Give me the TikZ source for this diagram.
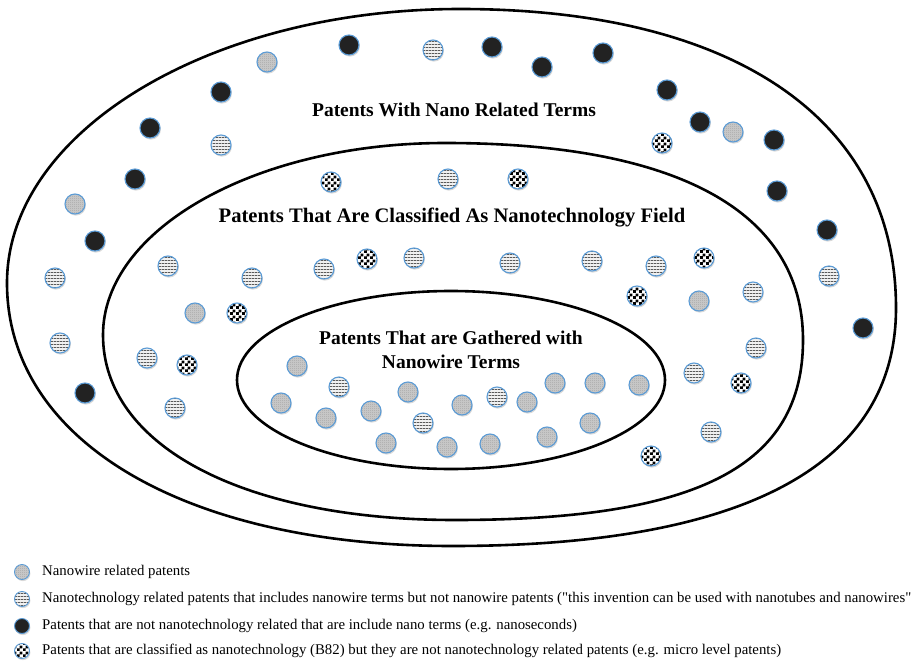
\documentclass[tikz,border=0pt]{standalone}
\usepackage{fontspec}
\setmainfont{Liberation Serif}[Ligatures=TeXOff]
\usetikzlibrary{patterns,shadows}
\definecolor{ringblue}{HTML}{5B9BD5}
\definecolor{wiregray}{HTML}{C6C6C6}
\definecolor{darkfill}{HTML}{222222}
\pgfdeclarepatternformonly{hstripes}{\pgfqpoint{0pt}{0pt}}{\pgfqpoint{3pt}{3pt}}{\pgfqpoint{3pt}{3pt}}{%
  \pgfpathrectangle{\pgfqpoint{-0.1pt}{0pt}}{\pgfqpoint{3.2pt}{1.2pt}}\pgfusepath{fill}}
\pgfdeclarepatternformonly{checks}{\pgfqpoint{0pt}{0pt}}{\pgfqpoint{5.6pt}{5.6pt}}{\pgfqpoint{5.6pt}{5.6pt}}{%
  \pgfpathrectangle{\pgfqpoint{0pt}{0pt}}{\pgfqpoint{2.85pt}{2.85pt}}%
  \pgfpathrectangle{\pgfqpoint{2.8pt}{2.8pt}}{\pgfqpoint{2.8pt}{2.8pt}}\pgfusepath{fill}}
\pgfdeclarepatternformonly{finedots}{\pgfqpoint{0pt}{0pt}}{\pgfqpoint{2pt}{2pt}}{\pgfqpoint{2pt}{2pt}}{%
  \pgfpathrectangle{\pgfqpoint{0pt}{0pt}}{\pgfqpoint{1pt}{1pt}}\pgfusepath{fill}}
\tikzset{
  dotbase/.style={circle, inner sep=0pt, minimum size=20pt, draw=ringblue, line width=1.1pt,
    drop shadow={shadow xshift=0.9pt, shadow yshift=-1.6pt, opacity=0.3}},
  wire/.style={dotbase, preaction={fill=wiregray}, pattern=finedots, pattern color=gray!80},
  strp/.style={dotbase, preaction={fill=gray!12}, pattern=hstripes, pattern color=black!65},
  blk/.style={dotbase, fill=darkfill},
  chk/.style={dotbase, preaction={fill=white}, pattern=checks, pattern color=black},
  legdot/.style={minimum size=15pt, line width=0.9pt},
  ring/.style={line width=2.6pt, draw=black},
  title/.style={font=\fontsize{19.5}{23.5}\selectfont\bfseries, align=center, inner sep=0pt},
  legtext/.style={anchor=west, inner sep=0pt, font=\fontsize{14.8}{17}\selectfont}
}
\begin{document}
\begin{tikzpicture}[x=1pt,y=-1pt]
\useasboundingbox (0,0) rectangle (915,663);
\fill[white] (0,0) rectangle (915,663);
% outer ring
\draw[ring] (7,283) .. controls (7,131.8) and (210,9) .. (460,9)
  .. controls (734.7,9) and (896,119.6) .. (896,308)
  .. controls (896,465) and (745,546) .. (452,546)
  .. controls (185,546) and (7,440.8) .. (7,283) -- cycle;
% middle ring
\draw[ring] (103,335) .. controls (103,229) and (256.2,143) .. (445,143)
  .. controls (677.7,143) and (803,211.9) .. (803,340)
  .. controls (803,466) and (698.6,520) .. (455,520)
  .. controls (243.8,520) and (103,446) .. (103,335) -- cycle;
% inner ring
\draw[ring] (451,380) ellipse [x radius=214pt, y radius=89pt];
% titles
\node[title] (t1) at (454,110) {Patents With Nano Related Terms};
\node[title, font=\fontsize{20.6}{24}\selectfont\bfseries] (t2) at (452,218) {Patents That Are Classified As Nanotechnology Field};
\node[title] (t3) at (451,350) {Patents That are Gathered with\\Nanowire Terms};
% dots
\foreach \px/\py/\tp [count=\i] in {
 267/62/wire, 349/45/blk, 433/50/strp, 492/47/blk, 542/67/blk, 603/53/blk, 221/92/blk, 150/128/blk,
 221/145/strp, 667/90/blk, 700/122/blk, 733/132/wire, 662/143/chk, 774/140/blk, 777/191/blk,
 827/230/blk, 829/276/strp, 863/328/blk, 135/179/blk, 75/204/wire, 95/241/blk, 55/278/strp,
 60/343/strp, 85/393/blk,
 331/182/chk, 448/179/strp, 518/179/chk, 168/266/strp, 252/278/strp, 195/313/wire, 237/313/chk,
 324/269/strp, 367/259/chk, 414/258/strp, 510/263/strp, 592/261/strp, 656/266/strp, 704/258/chk,
 637/296/chk, 699/301/wire, 753/292/strp, 756/348/strp, 694/373/strp, 741/383/chk, 711/432/strp,
 651/456/chk, 147/358/strp, 187/365/chk, 175/408/strp,
 297/366/wire, 339/387/strp, 281/403/wire, 326/418/wire, 371/411/wire, 408/392/wire, 386/443/wire,
 423/423/strp, 447/447/wire, 462/405/wire, 497/397/strp, 527/402/wire, 490/444/wire, 547/437/wire,
 555/383/wire, 595/383/wire, 590/423/wire, 639/385/wire}
 \node[\tp] (d\i) at (\px,\py) {};
% legend
\node[wire,legdot] (l1) at (22,572) {};
\node[strp,legdot] (l2) at (22,599) {};
\node[blk,legdot] (l3) at (22,626) {};
\node[chk,legdot] (l4) at (22,651) {};
\node[legtext] (lt1) at (42,572) {Nanowire related patents};
\node[legtext] (lt2) at (42,599) {Nanotechnology related patents that includes nanowire terms but not nanowire patents ("this invention can be used with nanotubes and nanowires"};
\node[legtext] (lt3) at (42,626) {Patents that are not nanotechnology related that are include nano terms (e.g. nanoseconds)};
\node[legtext] (lt4) at (42,651) {Patents that are classified as nanotechnology (B82) but they are not nanotechnology related patents (e.g. micro level patents)};
\end{tikzpicture}
\end{document}
